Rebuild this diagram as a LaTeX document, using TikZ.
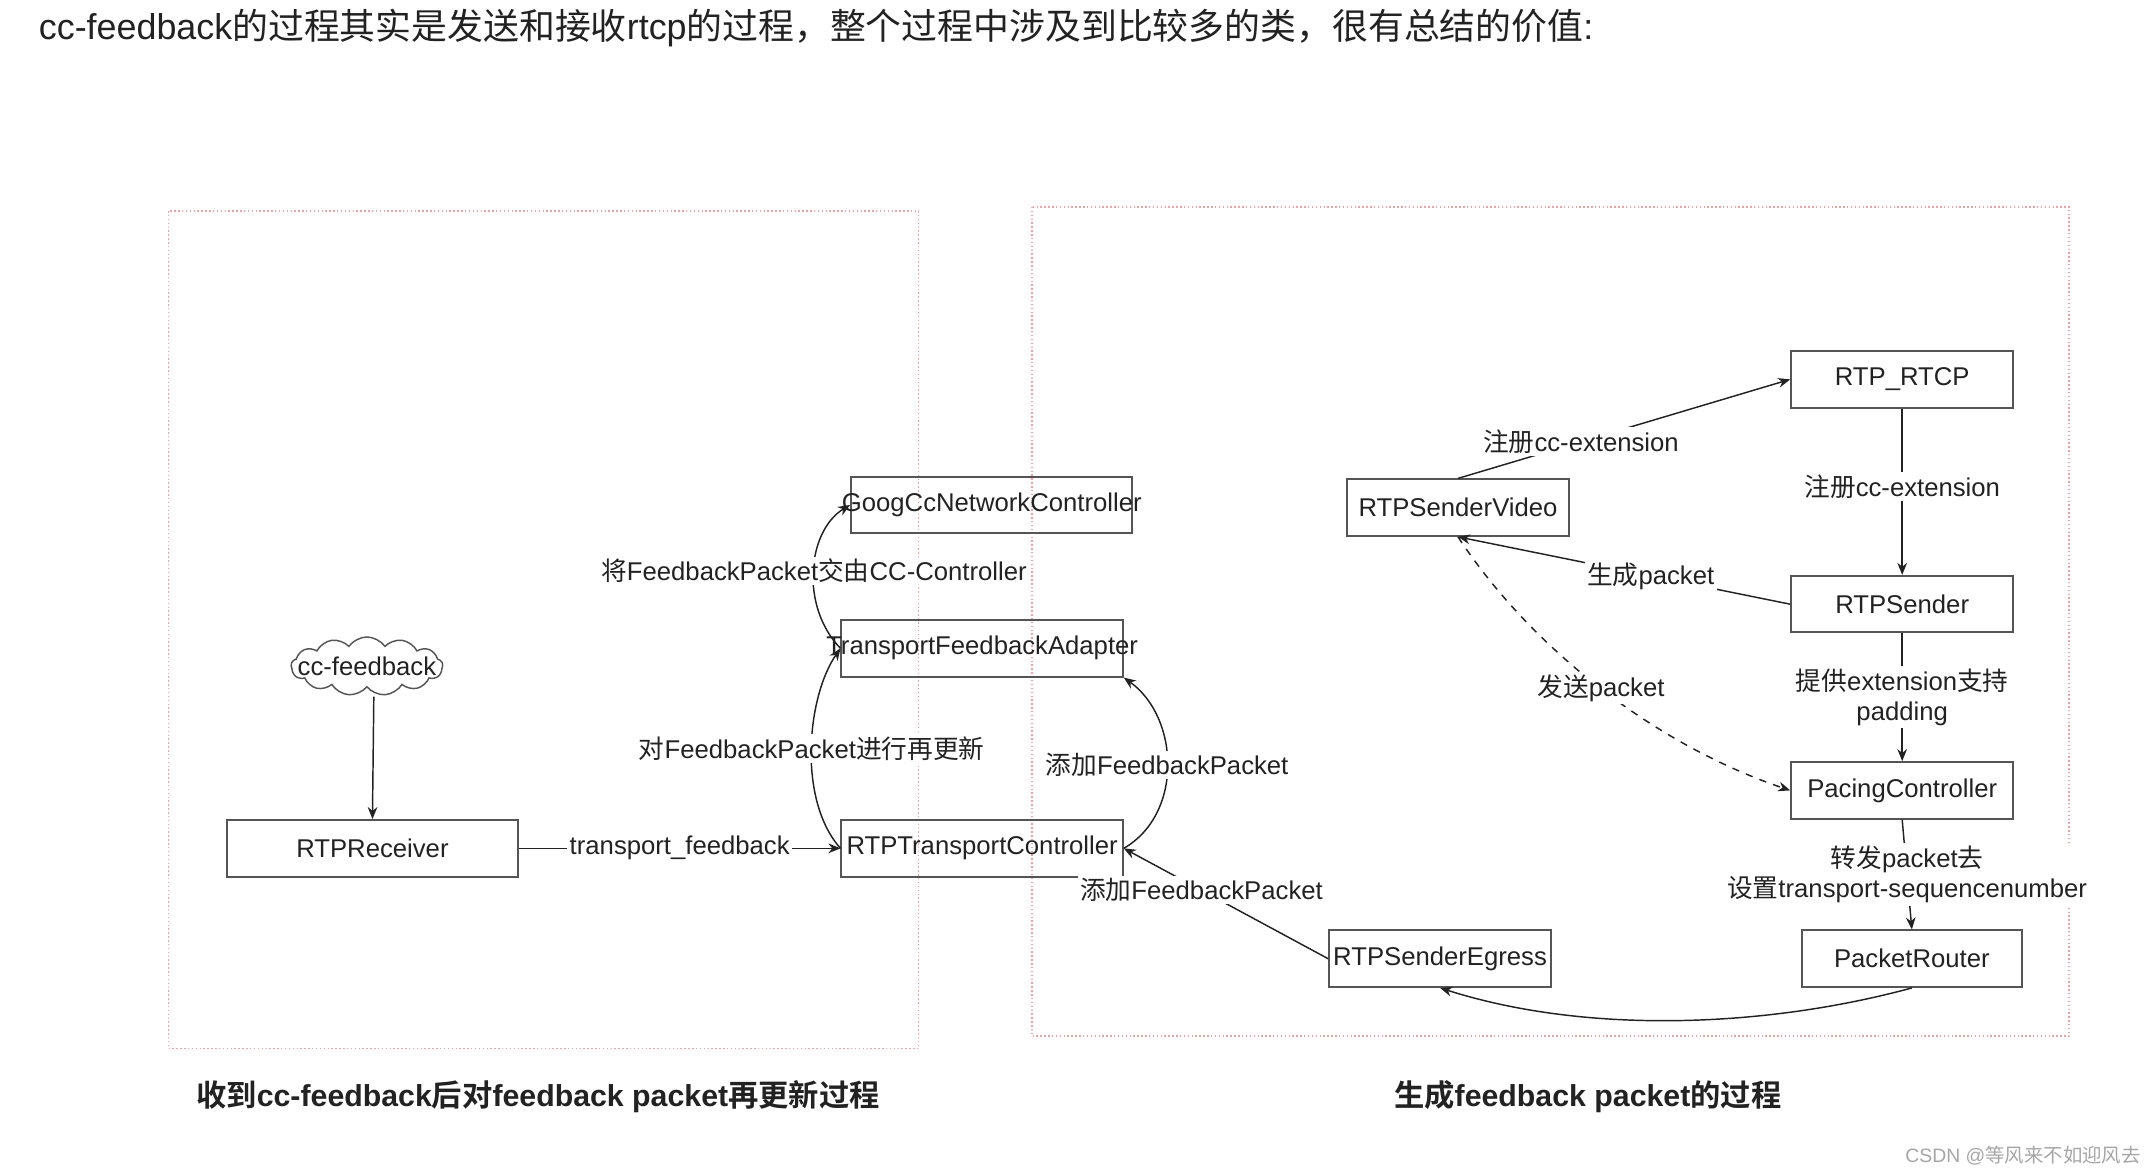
\documentclass[tikz,border=0pt]{standalone}
\usepackage{fontspec}
\setmainfont{Liberation Sans}
\newfontfamily\cjkf{Noto Sans CJK SC}[BoldFont={* Bold}]
\newcommand{\zh}[1]{{\cjkf #1}}
\usetikzlibrary{shapes.symbols,arrows.meta}
\definecolor{txt}{HTML}{222222}
\definecolor{edge}{HTML}{555555}
\definecolor{pinkb}{HTML}{F4A0A0}
\begin{document}
\begin{tikzpicture}[x=0.02cm,y=-0.02cm,
  box/.style={draw=edge,line width=0.8pt,minimum height=0.82cm,inner sep=0pt,text=txt,font=\fontsize{10.6}{12}\selectfont},
  tx/.style={text=txt,font=\fontsize{10.6}{12}\selectfont},
  conn/.style={draw=txt,line width=0.6pt,-{Stealth[length=5pt,width=4pt]}},
  lab/.style={fill=white,inner sep=1pt,text=txt,font=\fontsize{10.6}{12.5}\selectfont,align=center},
  area/.style={draw=pinkb,densely dotted,line width=0.6pt}]
\useasboundingbox[fill=white] (0,0) rectangle (1563,850);
\node[anchor=west,text=txt,font=\fontsize{14.8}{17}\selectfont] (title) at (22,20) {cc-feedback\zh{的过程其实是发送和接收}rtcp\zh{的过程，整个过程中涉及到比较多的类，很有总结的价值}:};
\draw[area] (122,153) rectangle (666,760);
\draw[area] (748,150) rectangle (1500,751);
% left part
\node[box,minimum width=4.08cm] (gcc) at (719,366) {};
\node[tx] (gcct) at (719,366) {GoogCcNetworkController};
\node[box,minimum width=4.08cm] (tfa) at (712,470) {};
\node[tx] (tfat) at (712,470) {TransportFeedbackAdapter};
\node[box,minimum width=4.08cm] (rtc) at (712,615) {};
\node[tx] (rtct) at (712,615) {RTPTransportController};
\node[box,minimum width=4.22cm] (rcv) at (270,615) {RTPReceiver};
\node[cloud,cloud puffs=13,cloud puff arc=110,draw=edge,line width=0.6pt,minimum width=2.2cm,minimum height=0.85cm,aspect=3,inner sep=0pt,tx] (cloud) at (266,483) {};
\node[tx] (cloudt) at (266,483) {cc-feedback};
% right part
\node[box,minimum width=3.22cm] (rtcp) at (1379,275) {RTP\_RTCP};
\node[box,minimum width=3.22cm] (rsv) at (1057,368) {RTPSenderVideo};
\node[box,minimum width=3.22cm] (rs) at (1379,438) {RTPSender};
\node[box,minimum width=3.22cm] (pc) at (1379,573) {PacingController};
\node[box,minimum width=3.2cm] (pr) at (1386,695) {PacketRouter};
\node[box,minimum width=3.22cm] (eg) at (1044,695) {};
\node[tx] (egt) at (1044,695) {RTPSenderEgress};
\coordinate (c1) at (271,505);
% connectors left
\draw[conn] (c1) -- (rcv.north);
\draw[conn] (rcv.east) -- node[lab]{transport\_feedback} (rtc.west);
\draw[conn] (rtc.west) .. controls (578,580) and (585,505) .. (tfa.west)
  node[lab,pos=0.5]{\zh{对}FeedbackPacket\zh{进行再更新}};
\draw[conn] (tfa.west) .. controls (580,440) and (585,385) .. (gcc.west)
  node[lab,pos=0.5]{\zh{将}FeedbackPacket\zh{交由}CC-Controller};
\draw[conn] (rtc.east) .. controls (858,590) and (855,520) .. (tfa.south east)
  node[lab,pos=0.5]{\zh{添加}FeedbackPacket};
\draw[conn] (eg.west) -- node[lab,pos=0.62]{\zh{添加}FeedbackPacket} (rtc.east);
% connectors right
\draw[conn] (rsv.north) -- node[lab,pos=0.37]{\zh{注册}cc-extension} (rtcp.west);
\draw[conn] (rtcp.south) -- node[lab,pos=0.47]{\zh{注册}cc-extension} (rs.north);
\draw[conn] (rs.west) -- node[lab,pos=0.42]{\zh{生成}packet} (rsv.south);
\draw[conn] (rs.south) -- node[lab,pos=0.5]{\zh{提供}extension\zh{支持}\\padding} (pc.north);
\draw[conn,dashed] (rsv.south) .. controls (1110,470) and (1200,540) .. (pc.west)
  node[lab,pos=0.5]{\zh{发送}packet};
\draw[conn] (pc.south) -- node[lab,pos=0.5]{\zh{转发}packet\zh{去}\\\zh{设置}transport-sequencenumber} (pr.north);
\draw[conn] (pr.south) .. controls (1280,745) and (1150,750) .. (eg.south);
% captions
\node[text=txt,font=\fontsize{12.5}{15}\selectfont\bfseries] (cap1) at (390,795) {\zh{收到}cc-feedback\zh{后对}feedback packet\zh{再更新过程}};
\node[text=txt,font=\fontsize{12.5}{15}\selectfont\bfseries] (cap2) at (1151,795) {\zh{生成}feedback packet\zh{的过程}};
\node[anchor=east,text=gray!70,font=\fontsize{8}{10}\selectfont] (wm) at (1558,838) {CSDN @\zh{等风来不如迎风去}};
\end{tikzpicture}
\end{document}
